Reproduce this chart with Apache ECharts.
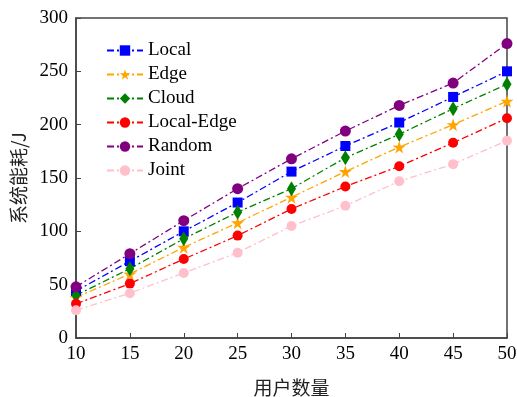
<!DOCTYPE html>
<html>
<head>
<meta charset="utf-8">
<script src="https://cdn.jsdelivr.net/npm/echarts@6/dist/echarts.min.js"></script>
<style>
  html, body { margin: 0; padding: 0; background: #fff; }
  #chart { width: 517px; height: 397px; }
</style>
</head>
<body>
<div id="chart"></div>
<script>
// values
const users = [10, 15, 20, 25, 30, 35, 40, 45, 50];
const local = [44, 72, 100, 127, 156, 180, 202, 226, 250];
const edge = [38, 60, 85, 108, 132, 156, 179, 200, 222];
const cloud = [40, 65, 93, 118, 140, 169, 191, 215, 238];
const localEdge = [32, 51, 74, 96, 121, 142, 161, 183, 206];
const random = [48, 79, 110, 140, 168, 194, 218, 239, 276];
const joint = [26, 42, 61, 80, 105, 124, 147, 163, 185];

const STAR = "path://M50,0 L61,35 L98,35 L68,57 L79,91 L50,70 L21,91 L32,57 L2,35 L39,35 Z";
const serif = "Liberation Serif";
const cjk = "Noto Sans CJK SC";

function mkSeries(name, values, color, symbol, size) {
  return {
    name: name,
    type: "line",
    data: users.map((u, i) => [u, values[i]]),
    symbol: symbol,
    symbolSize: size,
    itemStyle: { color: color },
    lineStyle: { color: color, width: 1.3, type: [7, 3, 2, 3] },
    z: 3
  };
}

let myChart = echarts.init(document.getElementById("chart"), null, { renderer: "canvas" }),
  option;
option = {
  animation: false,
  grid: {
    left: 76,
    right: 10,
    top: 18,
    bottom: 59,
    containLabel: false,
    outerBoundsMode: "none",
    show: true,
    borderColor: "#444",
    borderWidth: 1.5
  },
  legend: {
    orient: "vertical",
    left: 101,
    top: 36,
    itemWidth: 36,
    itemHeight: 13,
    itemGap: 5,
    textStyle: { fontFamily: serif, fontSize: 19, color: "#000" },
    data: ["Local", "Edge", "Cloud", "Local-Edge", "Random", "Joint"]
  },
  xAxis: {
    type: "value",
    min: 10,
    max: 50,
    interval: 5,
    name: "用户数量",
    nameLocation: "middle",
    nameGap: 40,
    nameTextStyle: { fontFamily: cjk, fontSize: 19, color: "#222" },
    axisLine: { lineStyle: { color: "#444", width: 1.5 } },
    axisTick: { inside: true, length: 5, lineStyle: { color: "#444" } },
    axisLabel: { fontFamily: serif, fontSize: 19, color: "#000", margin: 7 },
    splitLine: { show: false }
  },
  yAxis: {
    type: "value",
    min: 0,
    max: 300,
    interval: 50,
    name: "系统能耗/J",
    nameLocation: "middle",
    nameGap: 47,
    nameTextStyle: { fontFamily: cjk, fontSize: 19, color: "#222" },
    axisLine: { show: true, lineStyle: { color: "#444", width: 1.5 } },
    axisTick: { show: true, inside: true, length: 5, lineStyle: { color: "#444" } },
    axisLabel: { fontFamily: serif, fontSize: 19, color: "#000", margin: 8 },
    splitLine: { show: false }
  },
  series: [
    mkSeries("Local", local, "#0000ff", "rect", 10),
    mkSeries("Edge", edge, "#ffa500", STAR, 13),
    mkSeries("Cloud", cloud, "#008000", "diamond", [9, 15]),
    mkSeries("Local-Edge", localEdge, "#ff0000", "circle", 10),
    mkSeries("Random", random, "#800080", "circle", 11),
    mkSeries("Joint", joint, "#ffc0cb", "circle", 10)
  ]
};

if (option && typeof option === "object") myChart.setOption(option);
window.addEventListener("resize", function () {
  myChart.resize();
});
</script>
</body>
</html>
